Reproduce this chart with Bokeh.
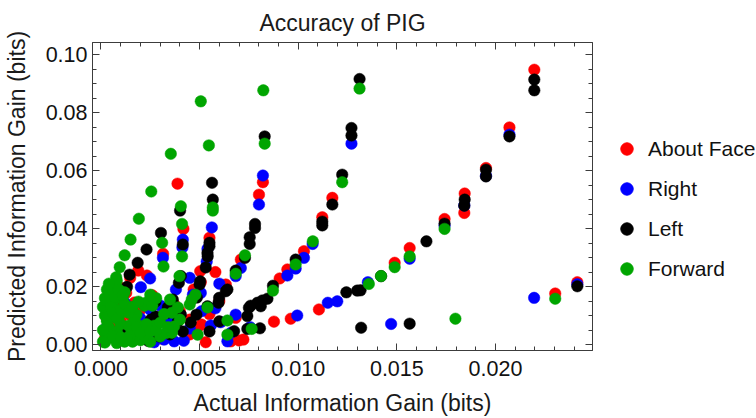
from bokeh.plotting import figure
from bokeh.layouts import row
from bokeh.models import (Range1d, FixedTicker, PrintfTickFormatter, LinearAxis,
                          Legend, LegendItem, ColumnDataSource)
from bokeh.embed import file_html
from bokeh.resources import INLINE

# ---- data ----
about_face_x = [0.02197, 0.02071, 0.01952, 0.01844, 0.01842, 0.01742, 0.01565, 0.01489, 0.01105, 0.00962,
                0.00877, 0.02415, 0.02303, 0.01173, 0.01122, 0.01029, 0.00945, 0.00906, 0.00683, 0.00722,
                0.00700, 0.00658, 0.00821, 0.00801, 0.00709, 0.00633, 0.00550, 0.00503, 0.00506, 0.00388,
                0.00418, 0.00315, 0.00233, 0.00189, 0.00128, 0.00148, 0.00531, 0.00489, 0.0017, 0.0005,
                0.0008, 0.0012, 0.0003, 0.0006, 0.0010, 0.0015, 0.0020, 0.0025, 0.0030, 0.0035,
                0.0040, 0.0045, 0.0031, 0.0045, 0.0021, 0.0002, 0.0004, 0.0013, 0.0006, 0.0009,
                0.0058, 0.0060, 0.0026, 0.0037, 0.0047, 0.0008, 0.0003, 0.0055, 0.0051]
about_face_y = [0.0948, 0.0749, 0.0609, 0.0521, 0.0454, 0.0433, 0.0333, 0.0282, 0.0121, 0.0089,
                0.0079, 0.0215, 0.0176, 0.0506, 0.0439, 0.0322, 0.0259, 0.0228, 0.0092, 0.0017,
                0.0014, 0.0011, 0.0560, 0.0517, 0.0293, 0.0207, 0.0368, 0.0253, 0.0215, 0.0555,
                0.0399, 0.0313, 0.0238, 0.0255, 0.0178, 0.0230, 0.0008, 0.0058, 0.0145, 0.0121,
                0.0155, 0.0135, 0.0090, 0.0065, 0.0080, 0.0100, 0.0120, 0.0075, 0.0090, 0.0083,
                0.0115, 0.0086, 0.0020, 0.0035, 0.0040, 0.0020, 0.0045, 0.0025, 0.0175, 0.0200,
                0.0250, 0.0150, 0.0170, 0.0140, 0.0190, 0.0110, 0.0140, 0.0105, 0.0069]

right_x = [0.02071, 0.01952, 0.01842, 0.01742, 0.01565, 0.01353, 0.01198, 0.01150, 0.00995, 0.02415,
           0.02196, 0.01471, 0.01270, 0.01073, 0.01029, 0.00987, 0.00945, 0.00683, 0.00607, 0.00756,
           0.00641, 0.00821, 0.00801, 0.00683, 0.00709, 0.00562, 0.00536, 0.00466, 0.00506, 0.00415,
           0.00413, 0.00380, 0.00314, 0.00249, 0.00202, 0.00371, 0.00320, 0.00172, 0.00557, 0.0012,
           0.0035, 0.0045, 0.0042, 0.0028, 0.0015, 0.0008, 0.0020, 0.0025, 0.0030, 0.0051,
           0.0058, 0.0066, 0.0005, 0.0010, 0.0045, 0.0054, 0.0060, 0.0003, 0.0038, 0.0027]
right_y = [0.0724, 0.0582, 0.0480, 0.0410, 0.0296, 0.0215, 0.0149, 0.0144, 0.0100, 0.0208,
           0.0161, 0.0071, 0.0693, 0.0347, 0.0299, 0.0262, 0.0238, 0.0103, 0.0077, 0.0060,
           0.0011, 0.0583, 0.0483, 0.0236, 0.0264, 0.0404, 0.0286, 0.0172, 0.0178, 0.0362,
           0.0335, 0.0190, 0.0299, 0.0228, 0.0198, 0.0011, 0.0017, 0.0017, 0.0066, 0.0145,
           0.0076, 0.0055, 0.0013, 0.0040, 0.0050, 0.0030, 0.0090, 0.0120, 0.0135, 0.0115,
           0.0125, 0.0041, 0.0100, 0.0170, 0.0230, 0.0330, 0.0210, 0.0060, 0.0100, 0.0008]

left_x = [0.02197, 0.02197, 0.02071, 0.01952, 0.01952, 0.01844, 0.01842, 0.01742, 0.01650, 0.01420,
          0.01316, 0.01299, 0.01244, 0.02415, 0.01565, 0.01319, 0.01311, 0.01270, 0.01270, 0.01223,
          0.01173, 0.01122, 0.01122, 0.00987, 0.00872, 0.00844, 0.00818, 0.00793, 0.00759, 0.00750,
          0.00806, 0.00742, 0.00675, 0.00830, 0.00781, 0.00781, 0.00754, 0.00754, 0.00730, 0.00683,
          0.00633, 0.00599, 0.00596, 0.00563, 0.00567, 0.00550, 0.00550, 0.00541, 0.00531, 0.00503,
          0.00500, 0.00486, 0.00401, 0.00415, 0.00395, 0.00364, 0.00304, 0.00231, 0.00186, 0.00145,
          0.00132, 0.00276, 0.00339, 0.00339, 0.00278, 0.00253, 0.00405, 0.00390, 0.00455, 0.00415,
          0.00294, 0.00484, 0.00641, 0.00540, 0.00742, 0.00810, 0.0015, 0.0008, 0.0020, 0.0010,
          0.0005, 0.0035, 0.0055, 0.0024, 0.0060, 0.00405, 0.0054]
left_y = [0.0914, 0.0877, 0.0718, 0.0603, 0.0580, 0.0500, 0.0479, 0.0417, 0.0356, 0.0236,
          0.0187, 0.0186, 0.0180, 0.0201, 0.0072, 0.0058, 0.0916, 0.0747, 0.0721, 0.0586,
          0.0483, 0.0411, 0.0424, 0.0293, 0.0203, 0.0158, 0.0152, 0.0144, 0.0134, 0.0127,
          0.0056, 0.0054, 0.0046, 0.0718, 0.0416, 0.0402, 0.0370, 0.0347, 0.0299, 0.0255,
          0.0184, 0.0161, 0.0144, 0.0558, 0.0500, 0.0351, 0.0339, 0.0304, 0.0266, 0.0218,
          0.0207, 0.0162, 0.0462, 0.0345, 0.0213, 0.0155, 0.0385, 0.0328, 0.0282, 0.0241,
          0.0199, 0.0148, 0.0128, 0.0110, 0.0097, 0.0086, 0.0103, 0.0080, 0.0076, 0.0045,
          0.0028, 0.0103, 0.0190, 0.0132, 0.0098, 0.0132, 0.0120, 0.0165, 0.0060, 0.0045,
          0.0025, 0.0035, 0.0045, 0.0012, 0.0080, 0.0236, 0.0316]

forward_x = [0.00506, 0.00823, 0.01311, 0.00547, 0.00830, 0.00354, 0.01223, 0.00255, 0.00405, 0.00567,
             0.00567, 0.00192, 0.00411, 0.00150, 0.00310, 0.01074, 0.01742, 0.00120, 0.00411, 0.00730,
             0.00095, 0.00317, 0.00987, 0.01565, 0.01489, 0.01420, 0.01358, 0.00683, 0.00077, 0.00398,
             0.00872, 0.00479, 0.02303, 0.01797, 0.00641, 0.00764, 0.00641,
             0.0002, 0.0003, 0.0002, 0.0004, 0.0003, 0.0005, 0.0004, 0.0006, 0.0005, 0.0006,
             0.0007, 0.0004, 0.0008, 0.0001, 0.0008, 0.0012, 0.0016, 0.0020, 0.0025, 0.0030,
             0.0022, 0.0033, 0.0036, 0.0015, 0.0008, 0.0010, 0.0014, 0.0019, 0.0018, 0.0022,
             0.0023, 0.0019, 0.0026, 0.0028, 0.0025, 0.0035, 0.0036, 0.0039, 0.0040, 0.0045,
             0.0046, 0.0054, 0.0049, 0.0037, 0.0013, 0.0009, 0.0011, 0.0012, 0.0015, 0.0017,
             0.0027, 0.0006, 0.0013, 0.0002, 0.0001, 0.0002, 0.0003, 0.0001, 0.0007, 0.0010,
             0.0003, 0.0005, 0.0006, 0.0008, 0.0010, 0.0012, 0.0014, 0.0016, 0.0018, 0.0020,
             0.0023, 0.0025, 0.0028, 0.0030, 0.0032, 0.0034, 0.0007, 0.0009, 0.0004, 0.0011]
forward_y = [0.0839, 0.0877, 0.0883, 0.0687, 0.0693, 0.0658, 0.0560, 0.0528, 0.0477, 0.0473,
             0.0462, 0.0434, 0.0416, 0.0362, 0.0351, 0.0356, 0.0399, 0.0308, 0.0304, 0.0308,
             0.0267, 0.0269, 0.0276, 0.0304, 0.0267, 0.0236, 0.0209, 0.0244, 0.0232, 0.0236,
             0.0186, 0.0172, 0.0158, 0.0089, 0.0083, 0.0054, 0.0034,
             0.0007, 0.0020, 0.0040, 0.0060, 0.0080, 0.0100, 0.0120, 0.0140, 0.0160, 0.0180,
             0.0200, 0.0185, 0.0220, 0.0010, 0.0005, 0.0010, 0.0010, 0.0015, 0.0010, 0.0028,
             0.0031, 0.0040, 0.0041, 0.0034, 0.0045, 0.0070, 0.0065, 0.0066, 0.0103, 0.0134,
             0.0145, 0.0148, 0.0134, 0.0160, 0.0172, 0.0155, 0.0110, 0.0128, 0.0086, 0.0138,
             0.0155, 0.0128, 0.0034, 0.0062, 0.0115, 0.0095, 0.0155, 0.0180, 0.0125, 0.0085,
             0.0065, 0.0030, 0.0022, 0.0100, 0.0130, 0.0160, 0.0190, 0.0050, 0.0120, 0.0025,
             0.0150, 0.0130, 0.0110, 0.0090, 0.0120, 0.0140, 0.0110, 0.0130, 0.0060, 0.0040,
             0.0070, 0.0045, 0.0050, 0.0075, 0.0105, 0.0060, 0.0165, 0.0190, 0.0210, 0.0170]

series_names = ["About Face", "Right", "Left", "Forward"]
series_colors = ["#FF0000", "#0000FF", "#000000", "#00A500"]

x_ticks = [0.000, 0.005, 0.010, 0.015, 0.020]
x_minor = [i / 1000 for i in range(0, 25)]
y_ticks = [0.00, 0.02, 0.04, 0.06, 0.08, 0.10]
y_minor = [i / 200 for i in range(0, 21)]

FONT = "Liberation Sans"
FRAME = "#3c3c3c"

p = figure(width=596, height=418,
           x_range=Range1d(-0.00043, 0.02492), y_range=Range1d(-0.00206, 0.1042),
           output_backend="svg", toolbar_location=None,
           min_border_left=92, min_border_right=4, min_border_top=42, min_border_bottom=67,
           x_axis_label="Actual Information Gain (bits)",
           y_axis_label="Predicted Information Gain (bits)")
p.background_fill_color = "white"
p.border_fill_color = "white"
p.outline_line_color = FRAME
p.xgrid.visible = False
p.ygrid.visible = False

p.title.text = "Accuracy of PIG"
p.title.align = "center"
p.title.text_font = FONT
p.title.text_font_size = "23px"
p.title.text_font_style = "normal"
p.title.text_color = "#1a1a1a"
p.title.standoff = 13

def style_axis(ax, ticks, minor, fmt, labels=True):
    ax.ticker = FixedTicker(ticks=ticks, minor_ticks=minor)
    ax.major_tick_in = 7
    ax.major_tick_out = 0
    ax.minor_tick_in = 4
    ax.minor_tick_out = 0
    ax.axis_line_color = FRAME
    ax.major_tick_line_color = FRAME
    ax.minor_tick_line_color = FRAME
    if fmt:
        ax.formatter = PrintfTickFormatter(format=fmt)
    if labels:
        ax.major_label_text_font = FONT
        ax.major_label_text_font_size = "21.5px"
        ax.major_label_text_color = "#111111"
        ax.axis_label_text_font = FONT
        ax.axis_label_text_font_size = "23px"
        ax.axis_label_text_font_style = "normal"
        ax.axis_label_text_color = "#1a1a1a"
    else:
        ax.major_label_overrides = {t: "" for t in ticks}
        ax.major_label_text_font_size = "1px"
        ax.major_label_standoff = 0
        ax.axis_label = None

style_axis(p.xaxis[0], x_ticks, x_minor, "%.3f")
p.xaxis[0].major_label_standoff = 10
p.xaxis[0].axis_label_standoff = 11
style_axis(p.yaxis[0], y_ticks, y_minor, "%.2f")
p.yaxis[0].major_label_standoff = 5
p.yaxis[0].axis_label_standoff = 13

top_ax = LinearAxis()
style_axis(top_ax, x_ticks, x_minor, None, labels=False)
p.add_layout(top_ax, "above")
right_ax = LinearAxis()
style_axis(right_ax, y_ticks, y_minor, None, labels=False)
p.add_layout(right_ax, "right")

xs = [about_face_x, right_x, left_x, forward_x]
ys = [about_face_y, right_y, left_y, forward_y]
sources = [ColumnDataSource(dict(x=sx, y=sy)) for sx, sy in zip(xs, ys)]
for col, src in zip(series_colors, sources):
    p.scatter("x", "y", source=src, size=11.5, fill_color=col, line_color=col, line_width=0.5)

# legend panel to the right of the plot (its ranges keep the shared data out of view)
pl = figure(width=160, height=418, x_range=Range1d(10, 11), y_range=Range1d(10, 11),
            output_backend="svg", toolbar_location=None, min_border=0)
pl.xaxis.visible = False
pl.yaxis.visible = False
pl.xgrid.visible = False
pl.ygrid.visible = False
pl.outline_line_color = None
items = []
for name, col, src in zip(series_names, series_colors, sources):
    r = pl.scatter("x", "y", source=src, size=11.5, fill_color=col, line_color=col)
    items.append(LegendItem(label=name, renderers=[r]))

legend = Legend(items=items, location=(15, 66))
legend.glyph_width = 31
legend.glyph_height = 31
legend.label_height = 31
legend.spacing = 9
legend.padding = 0
legend.margin = 0
legend.label_standoff = 6
legend.label_text_font = FONT
legend.label_text_font_size = "21px"
legend.label_text_color = "#111111"
legend.border_line_color = None
legend.background_fill_alpha = 0
pl.add_layout(legend, "center")

layout = row(p, pl)
open("out.html", "w").write(file_html(layout, INLINE))
